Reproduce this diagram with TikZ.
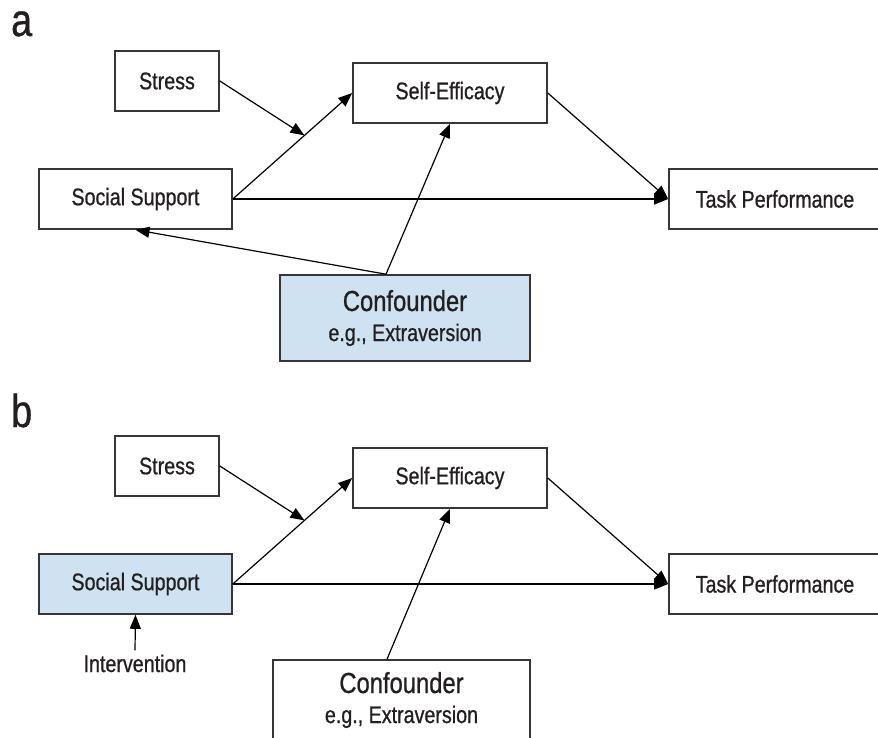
\documentclass[tikz,border=0pt]{standalone}
\usepackage{fontspec}
\setmainfont{Liberation Sans}[FakeStretch=0.82,FakeBold=0.8]
\usetikzlibrary{arrows.meta,calc}
\definecolor{paleblue}{HTML}{CFE2F2}
\definecolor{ink}{HTML}{231F20}

\begin{document}
\begin{tikzpicture}[x=1pt,y=-1pt,
  box/.style={draw=ink!90,line width=1.6pt,minimum height=60pt,inner sep=0pt,
    text=ink,font=\fontsize{24}{28}\selectfont},
  confbox/.style={box,align=center,font=\fontsize{24}{30}\selectfont},
  arr/.style={line width=1.2pt,-{Triangle[length=14pt,width=11pt]}},
  panel/.style={anchor=base west,inner sep=0pt,text=ink,font=\fontsize{46}{48}\selectfont}]
\useasboundingbox (0,0) rectangle (878,738);
\foreach \p/\dy/\ly/\col in {a/0/36/white,b/385/427/paleblue} {
  \node[panel] (lab\p) at (11,\ly) {\p};
  \node[box,minimum width=104pt] (stress\p) at (167,81+\dy) {Stress};
  \node[box,minimum width=194pt] (self\p) at (450,93+\dy) {Self-Efficacy};
  \node[box,minimum width=193pt,fill=\col] (social\p) at (135.5,199+\dy) {Social Support};
  \node[box,minimum width=212pt] (task\p) at (775,199+\dy) {Task Performance};
  \coordinate (mod\p) at ($(social\p.east)!0.6!(self\p.west)$);
  \draw[arr] (social\p.east) -- (self\p.west);
  \draw[arr] (social\p.east) -- (task\p.west);
  \draw[arr] (self\p.east) -- (task\p.west);
  \draw[arr] (stress\p.east) -- (mod\p);
}
\node[confbox,minimum width=250pt,minimum height=86pt,fill=paleblue] (confa) at (405,318)
  {{\fontsize{29}{30}\selectfont Confounder}\\e.g., Extraversion};
\node[confbox,minimum width=257pt,minimum height=80pt] (confb) at (401.5,700)
  {{\fontsize{29}{30}\selectfont Confounder}\\e.g., Extraversion};
\coordinate (srca) at ([xshift=-19pt]confa.north);
\coordinate (srcb) at ([xshift=-14.5pt]confb.north);
\draw[arr] (srca) -- (selfa.south);
\draw[arr] (srca) -- (sociala.south);
\draw[arr] (srcb) -- (selfb.south);
\node[anchor=base,inner sep=4pt,text=ink,font=\fontsize{24}{28}\selectfont] (interv) at (135,672) {Intervention};
\draw[arr] (interv.north) -- (socialb.south);
\end{tikzpicture}
\end{document}
